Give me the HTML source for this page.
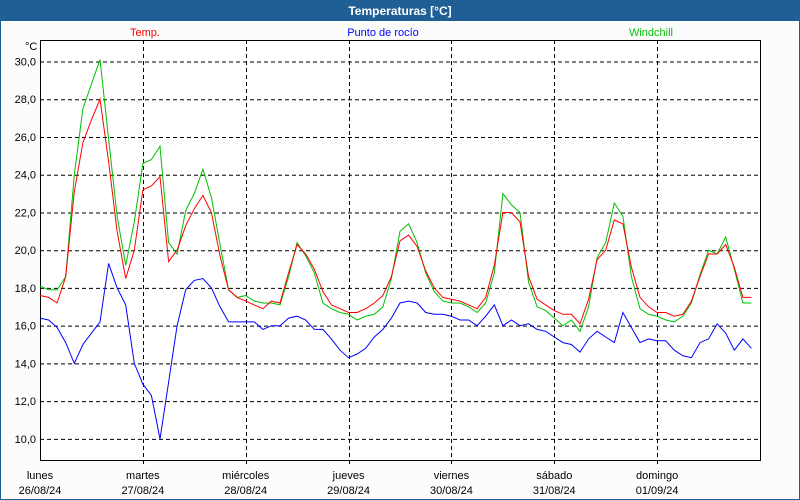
<!DOCTYPE html>
<html><head><meta charset="utf-8"><style>
body{margin:0;width:800px;height:500px;overflow:hidden;background:#fcfcfc;font-family:"Liberation Sans",sans-serif}
#wrap{position:relative;width:798px;height:498px;border:1px solid #1f5f96;background:#fcfcfc}
#title{position:absolute;left:0;top:0;width:798px;height:20px;background:#1f5f96;color:#fff;font-weight:bold;font-size:12px;text-align:center;line-height:20px}
svg{position:absolute;left:-1px;top:-1px}
</style></head><body>
<div id="wrap">
<div id="title">Temperaturas [°C]</div>
<svg id="chart" width="800" height="500" font-family="Liberation Sans, sans-serif" font-size="11"></svg>
</div>
<script>
const days=["lunes","martes","miércoles","jueves","viernes","sábado","domingo"];
const dates=["26/08/24","27/08/24","28/08/24","29/08/24","30/08/24","31/08/24","01/09/24"];
const yTicks=[10,12,14,16,18,20,22,24,26,28,30];
const hourStep=2;
const temp=[17.6,17.5,17.2,18.6,23.1,25.7,26.9,28.0,24.7,21.0,18.5,20.0,
23.2,23.4,23.9,19.4,20.0,21.3,22.2,22.9,22.0,19.7,17.9,17.5,
17.3,17.1,16.9,17.3,17.2,18.8,20.3,19.8,19.0,17.8,17.1,16.9,
16.7,16.7,16.9,17.2,17.6,18.6,20.5,20.8,20.2,18.9,18.0,17.5,
17.4,17.3,17.1,16.9,17.5,19.2,22.0,22.0,21.5,18.6,17.4,17.1,
16.8,16.6,16.6,16.1,17.4,19.5,20.0,21.6,21.4,19.1,17.5,17.0,
16.7,16.7,16.5,16.6,17.3,18.6,19.8,19.8,20.3,19.1,17.5,17.5];
const dew=[16.4,16.3,15.9,15.1,14.0,15.0,15.6,16.2,19.3,18.0,17.1,14.0,
12.9,12.3,10.0,13.0,16.0,17.9,18.4,18.5,18.0,17.0,16.2,16.2,
16.2,16.2,15.8,16.0,16.0,16.4,16.5,16.3,15.8,15.8,15.3,14.7,
14.3,14.5,14.8,15.4,15.8,16.4,17.2,17.3,17.2,16.7,16.6,16.6,
16.5,16.3,16.3,16.0,16.5,17.1,16.0,16.3,16.0,16.1,15.8,15.7,
15.4,15.1,15.0,14.6,15.3,15.7,15.4,15.1,16.7,15.9,15.1,15.3,
15.2,15.2,14.7,14.4,14.3,15.1,15.3,16.1,15.6,14.7,15.3,14.8];
const windchill=[18.1,17.9,17.9,18.6,24.0,27.5,28.8,30.1,25.9,21.8,19.2,21.5,
24.6,24.8,25.5,20.4,19.8,22.1,23.0,24.3,22.8,20.3,17.9,17.5,
17.6,17.3,17.2,17.2,17.1,18.6,20.4,19.7,18.8,17.2,16.9,16.7,
16.6,16.3,16.5,16.6,17.0,18.5,21.0,21.4,20.4,18.8,17.8,17.3,
17.2,17.2,17.0,16.7,17.2,18.8,23.0,22.4,22.0,18.3,17.0,16.8,
16.4,16.0,16.3,15.7,17.0,19.6,20.4,22.5,21.8,18.6,16.9,16.6,
16.5,16.3,16.2,16.5,17.2,18.7,20.0,19.8,20.7,19.0,17.2,17.2];

const svg=document.getElementById('chart');
const NS='http://www.w3.org/2000/svg';
const L=40,R=760,T=40,B=460;
const yMin=8.88,yMax=31.14;
const dayW=(R-L)/7;
function xs(h){return L+h/24*dayW;}
function ys(v){return B-(v-yMin)/(yMax-yMin)*(B-T);}
function mk(tag,attrs){const e=document.createElementNS(NS,tag);for(const k in attrs)e.setAttribute(k,attrs[k]);svg.appendChild(e);return e;}

mk('rect',{x:L,y:T,width:R-L,height:B-T,fill:'#fff'});
yTicks.forEach(v=>{
  const g=mk('line',{x1:L,x2:R,y1:ys(v)+0.5,y2:ys(v)+0.5,stroke:'#000','stroke-dasharray':'4,3'});
  
  
  const t=mk('text',{x:36,y:ys(v)+4,'text-anchor':'end',fill:'#000'});
  t.textContent=v.toFixed(1).replace('.',',');
  
  
});
days.forEach((d,i)=>{
  const x=xs(i*24);
  if(i>0){
    const g=mk('line',{x1:Math.round(x)+0.5,x2:Math.round(x)+0.5,y1:T,y2:B+4,stroke:'#000','stroke-dasharray':'4,3'});
    
    
  }
  const t1=mk('text',{x:x,y:479,'text-anchor':'middle',fill:'#000'});
  t1.textContent=d;
  
  
  const t2=mk('text',{x:x,y:494,'text-anchor':'middle',fill:'#000'});
  t2.textContent=dates[i];
  
  
});
const fr=mk('rect',{x:L+0.5,y:T+0.5,width:R-L,height:B-T,fill:'none',stroke:'#000'});



function line(arr,color,name){
  const pts=arr.map((v,i)=>xs(i*hourStep).toFixed(1)+','+ys(v).toFixed(1)).join(' ');
  const p=mk('polyline',{points:pts,fill:'none',stroke:color,'stroke-width':1});
  
  
}
line(dew,'#0000ff','dew-point-line');
line(windchill,'#00c000','windchill-line');
line(temp,'#ff0000','temp-line');

const u=mk('text',{x:25,y:50,fill:'#000'});u.textContent='°C';


[['Temp.',145,'#ff0000'],['Punto de rocío',383,'#0000ff'],['Windchill',651,'#00c000']].forEach(l=>{
  const t=mk('text',{x:l[1],y:36,'text-anchor':'middle',fill:l[2]});
  t.textContent=l[0];
  
  
});
</script>
</body></html>
